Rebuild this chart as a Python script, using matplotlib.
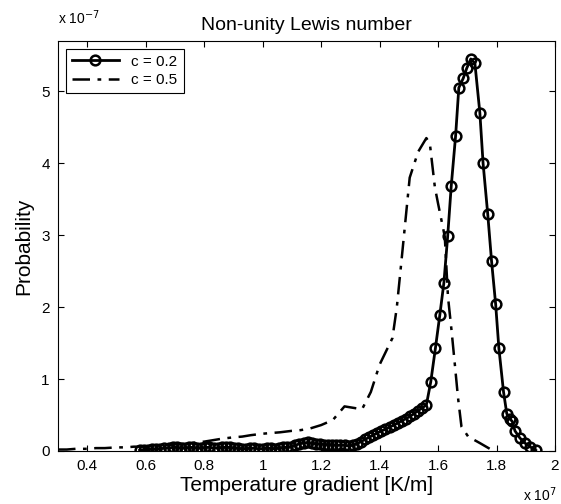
import matplotlib
matplotlib.use("Agg")
import matplotlib.pyplot as plt
from matplotlib.ticker import FuncFormatter

plt.rcParams['font.family'] = ['Liberation Sans', 'DejaVu Sans']

# Temperature gradient in units of 1e7 K/m, probability in units of 1e-7
x_c02 = [0.580, 0.594, 0.608, 0.622, 0.636, 0.650, 0.664, 0.678, 0.692, 0.706,
         0.720, 0.734, 0.748, 0.762, 0.776, 0.790, 0.804, 0.818, 0.832, 0.846,
         0.860, 0.874, 0.888, 0.902, 0.916, 0.930, 0.944, 0.958, 0.972, 0.986,
         1.000, 1.014, 1.028, 1.042, 1.056, 1.070, 1.084, 1.098, 1.112, 1.126,
         1.140, 1.154, 1.168, 1.182, 1.196, 1.210, 1.224, 1.238, 1.252, 1.266,
         1.280, 1.294, 1.308, 1.322, 1.336, 1.350, 1.364, 1.378, 1.392, 1.406,
         1.420, 1.434, 1.448, 1.462, 1.476, 1.490, 1.504, 1.518, 1.532, 1.546,
         1.560, 1.575, 1.591, 1.606, 1.620, 1.633, 1.645, 1.660, 1.671, 1.686,
         1.698, 1.712, 1.726, 1.743, 1.754, 1.770, 1.783, 1.797, 1.808, 1.824,
         1.835, 1.845, 1.854, 1.863, 1.880, 1.897, 1.914, 1.934]
y_c02 = [0.01, 0.02, 0.02, 0.03, 0.03, 0.03, 0.04, 0.04, 0.05, 0.05,
         0.04, 0.04, 0.05, 0.05, 0.04, 0.04, 0.05, 0.05, 0.04, 0.04,
         0.05, 0.05, 0.05, 0.04, 0.04, 0.03, 0.03, 0.04, 0.04, 0.03,
         0.03, 0.04, 0.04, 0.03, 0.04, 0.05, 0.05, 0.06, 0.08, 0.10,
         0.11, 0.12, 0.11, 0.10, 0.10, 0.09, 0.09, 0.09, 0.08, 0.08,
         0.08, 0.07, 0.08, 0.10, 0.13, 0.16, 0.19, 0.22, 0.25, 0.28,
         0.30, 0.33, 0.36, 0.39, 0.42, 0.45, 0.48, 0.52, 0.56, 0.60,
         0.64, 0.96, 1.43, 1.89, 2.34, 2.99, 3.68, 4.38, 5.05, 5.18,
         5.32, 5.45, 5.39, 4.70, 4.00, 3.29, 2.64, 2.04, 1.43, 0.82,
         0.52, 0.45, 0.41, 0.28, 0.18, 0.11, 0.06, 0.01]

x_c05 = [0.30, 0.33, 0.36, 0.40, 0.43, 0.46, 0.50, 0.53, 0.56, 0.60,
         0.63, 0.66, 0.70, 0.73, 0.76, 0.80, 0.83, 0.86, 0.90, 0.93,
         0.96, 1.00, 1.03, 1.06, 1.10, 1.13, 1.16, 1.20, 1.24, 1.28,
         1.31, 1.34, 1.37, 1.40, 1.444, 1.459, 1.475, 1.492, 1.503, 1.532,
         1.560, 1.572, 1.589, 1.600, 1.623, 1.634, 1.646, 1.657, 1.668, 1.680,
         1.703, 1.743, 1.777]
y_c05 = [0.02, 0.02, 0.03, 0.03, 0.04, 0.04, 0.05, 0.05, 0.06, 0.06,
         0.07, 0.08, 0.09, 0.10, 0.11, 0.13, 0.15, 0.17, 0.19, 0.20,
         0.22, 0.24, 0.25, 0.26, 0.28, 0.29, 0.31, 0.36, 0.43, 0.62,
         0.60, 0.58, 0.82, 1.20, 1.57, 2.00, 2.65, 3.35, 3.80, 4.16,
         4.35, 4.27, 3.67, 3.44, 2.98, 2.14, 1.68, 1.22, 0.75, 0.34,
         0.20, 0.11, 0.03]

x_ticks = [0.4, 0.6, 0.8, 1.0, 1.2, 1.4, 1.6, 1.8, 2.0]
y_ticks = [0, 1, 2, 3, 4, 5]

fig = plt.figure(figsize=(5.61, 5.04), dpi=100)
ax = fig.add_axes([0.1034, 0.1052, 0.8859, 0.8135])

ax.plot(x_c02, y_c02, color='k', lw=2, marker='o', mfc='none', mec='k',
        ms=7, mew=1.8, label='c = 0.2')
ax.plot(x_c05, y_c05, color='k', lw=1.8, dashes=(7, 3, 1.5, 3),
        label='c = 0.5')

ax.set_xlim(0.3, 2.0)
ax.set_ylim(0, 5.7)
ax.set_xticks(x_ticks)
ax.set_yticks(y_ticks)
ax.xaxis.set_major_formatter(FuncFormatter(lambda v, p: ('%g' % v)))
ax.tick_params(direction='in', top=True, right=True, length=4,
               labelsize=11, pad=6, width=0.8)
for s in ax.spines.values():
    s.set_linewidth(0.8)

ax.set_title('Non-unity Lewis number', fontsize=14, pad=8)
ax.set_xlabel('Temperature gradient [K/m]', fontsize=15, labelpad=2)
ax.set_ylabel('Probability', fontsize=15, labelpad=6)

fig.text(0.104, 0.952, r'x 10$^{-7}$', fontsize=10, ha='left')
fig.text(0.993, 0.006, r'x 10$^{7}$', fontsize=10, ha='right')

leg = ax.legend(loc='upper left', frameon=True, fancybox=False,
                edgecolor='k', framealpha=1, fontsize=11, numpoints=1,
                handlelength=3.1, borderaxespad=0.5, labelspacing=0.3)
leg.get_frame().set_linewidth(0.8)

fig.savefig('out.png', dpi=100)
